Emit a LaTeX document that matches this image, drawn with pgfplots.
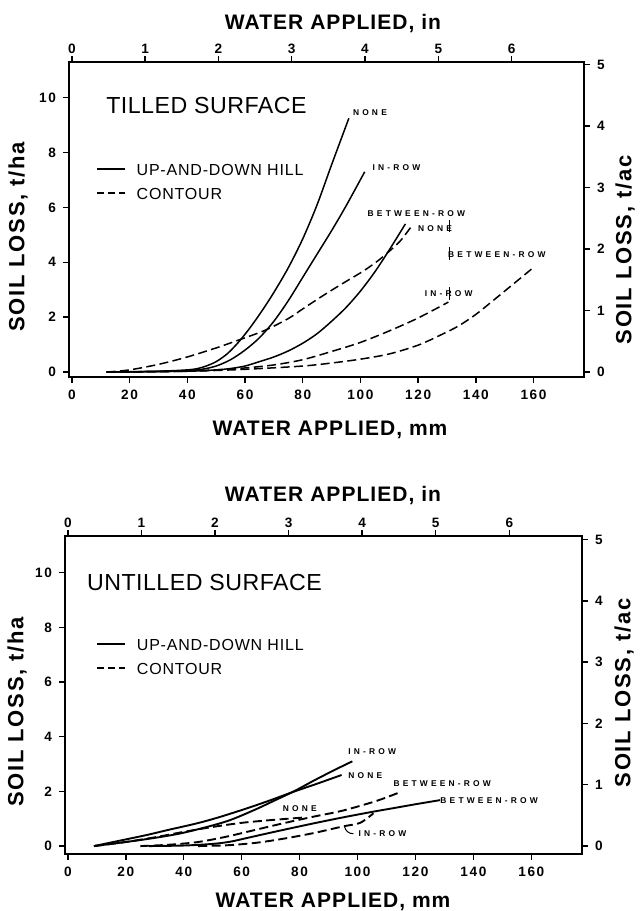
\documentclass[border=0pt]{standalone}
\usepackage{fontspec}
\setmainfont{Liberation Sans}
\newfontfamily\lblfont[LetterSpace=38]{Liberation Sans}
\newfontfamily\tickfont[LetterSpace=12]{Liberation Sans}
\newfontfamily\axfont[LetterSpace=5]{Liberation Sans}
\newfontfamily\yfont[LetterSpace=8]{Liberation Sans}
\newfontfamily\ttlfont[LetterSpace=2]{Liberation Sans}
\usepackage{pgfplots}
\pgfplotsset{compat=1.18}

\pgfplotsset{
  soil/.style={
    scale only axis,
    xmin=-1, xmax=177.5,
    tick align=outside, major tick length=3pt,
    axis line style={line width=0.8pt},
    every tick/.style={black, line width=0.7pt},
    tick label style={font=\tickfont\bfseries\fontsize{6.8}{8}\selectfont},
    /pgf/number format/assume math mode=true,
  },
  mm/.style={soil, xtick={0,20,...,160}, ytick={0,2,...,10},
    xtick pos=left, ytick pos=left, xticklabel pos=left, yticklabel pos=left,
    legend style={draw=none, fill=none, inner sep=0pt, row sep=4pt, column sep=4.5pt,
      nodes={inner sep=1pt, text height=6pt, text depth=0pt},
      font=\axfont\fontsize{8}{9}\selectfont},
    legend cell align=left,
    legend image code/.code={\draw[#1] (0pt,0pt) -- (14pt,0pt);},
  },
  inch/.style={soil, xmin=-1/25.4, xmax=177.5/25.4,
    xtick={0,...,6}, ytick={0,...,5},
    xtick pos=right, ytick pos=right, xticklabel pos=right, yticklabel pos=right,
    xticklabel style={yshift=-2.5pt},
  },
  up/.style={black, line width=0.75pt, smooth, tension=0.5, forget plot},
  co/.style={up, dash pattern=on 4.5pt off 2.2pt},
}
\tikzset{
  big/.style={font=\axfont\bfseries\fontsize{10.5}{12}\selectfont, inner sep=0pt},
  bigy/.style={font=\yfont\bfseries\fontsize{11}{12}\selectfont, inner sep=0pt, rotate=90},
  lbl/.style={font=\lblfont\bfseries\fontsize{4.2}{5}\selectfont, inner sep=0pt, anchor=west},
  ttl/.style={font=\ttlfont\fontsize{11.6}{13}\selectfont, anchor=west, inner sep=0pt},
}

\begin{document}
\begin{tikzpicture}
\path[use as bounding box] (0,0) rectangle (320pt,-455.5pt);

% ---- tilled surface
\begin{axis}[mm, at={(34.5pt,-31pt)}, anchor=north west,
  width=257.5pt, height=157.5pt, ymin=-0.18, ymax=11.3,
  legend style={at={(axis description cs:0.052,0.622)}, anchor=west}]
\addlegendimage{black, line width=0.75pt}
\addlegendentry{UP-AND-DOWN HILL}
\addlegendimage{black, line width=0.75pt, dash pattern=on 3.5pt off 2pt}
\addlegendentry{CONTOUR}
% up-and-down hill
\addplot[up] coordinates {(12,0) (25,0.02) (35,0.05) (42,0.1) (46,0.2) (50,0.38) (54,0.68) (58,1.12) (62,1.65) (66,2.25) (70,2.9) (75,3.8) (80,4.85) (85,6.1) (90,7.55) (96,9.25)};
\addplot[up] coordinates {(12,0) (30,0.02) (40,0.05) (45,0.1) (50,0.22) (55,0.45) (60,0.8) (65,1.25) (70,1.85) (75,2.6) (80,3.45) (85,4.3) (90,5.15) (95,6.05) (101.5,7.3)};
\addplot[up] coordinates {(12,0) (40,0.03) (50,0.08) (55,0.13) (60,0.22) (65,0.38) (70,0.55) (75,0.77) (80,1.05) (85,1.4) (90,1.85) (95,2.35) (100,2.95) (105,3.65) (110,4.45) (115.6,5.4)};
% contour
\addplot[co] coordinates {(12,0) (20,0.08) (30,0.28) (40,0.55) (50,0.88) (57.6,1.16) (66.9,1.52) (75,1.95) (80,2.3) (88,2.85) (95,3.3) (101,3.68) (106,4.05) (110,4.4) (114,4.8) (117.6,5.3)};
\addplot[co] coordinates {(12,0) (30,0.02) (40,0.04) (50,0.08) (60,0.15) (70,0.26) (80,0.45) (90,0.75) (100,1.08) (110,1.5) (120,1.97) (130.5,2.55)};
\addplot[co] coordinates {(12,0) (40,0.03) (60,0.1) (80,0.22) (90,0.33) (100,0.47) (110,0.66) (120,0.98) (128,1.36) (134,1.68) (140,2.1) (145,2.52) (150,2.95) (155,3.38) (160.3,3.84)};
\node[lbl] at (axis cs:97.3,9.47) {NONE};
\node[lbl] at (axis cs:104.1,7.44) {IN-ROW};
\node[lbl] at (axis cs:102.4,5.77) {BETWEEN-ROW};
\node[lbl] at (axis cs:119.9,5.24) {NONE};
\node[lbl] at (axis cs:130.3,4.27) {BETWEEN-ROW};
\node[lbl] at (axis cs:122.2,2.87) {IN-ROW};
\draw[line width=0.5pt] (axis cs:131,5.55) -- (axis cs:131,5.12);
\draw[line width=0.5pt] (axis cs:131,4.57) -- (axis cs:131,4.09);
\draw[line width=0.5pt] (axis cs:131,3.1) -- (axis cs:131,2.62);
\node[ttl] at (axis cs:11.8,9.7) {TILLED SURFACE};
\end{axis}
\begin{axis}[inch, at={(34.5pt,-31pt)}, anchor=north west,
  width=257.5pt, height=157.5pt, ymin=-0.18/2.2417, ymax=11.3/2.2417]
\end{axis}

% ---- untilled surface
\begin{axis}[mm, at={(32.5pt,-268pt)}, anchor=north west,
  width=258.5pt, height=159pt, ymin=-0.29, ymax=11.34,
  legend style={at={(axis description cs:0.060,0.622)}, anchor=west},
  every axis plot/.append style={line width=0.95pt}]
\addlegendimage{black, line width=0.75pt}
\addlegendentry{UP-AND-DOWN HILL}
\addlegendimage{black, line width=0.75pt, dash pattern=on 3.5pt off 2pt}
\addlegendentry{CONTOUR}
% up-and-down hill
\addplot[up, line width=0.95pt] coordinates {(9,0) (18,0.2) (27,0.4) (35,0.6) (44.5,0.83) (52,1.05) (61.8,1.38) (70,1.68) (78,1.99) (86,2.28) (94.5,2.6)};
\addplot[up, line width=0.95pt] coordinates {(9,0) (20,0.15) (30,0.3) (38.7,0.46) (48,0.7) (56,0.95) (65,1.35) (72,1.7) (78,2.0) (85,2.4) (92,2.78) (98.2,3.1)};
\addplot[up, line width=0.95pt] coordinates {(28,0) (40,0.02) (50,0.08) (56,0.16) (62,0.3) (68.7,0.46) (76,0.63) (84.8,0.83) (95,1.05) (105.5,1.26) (112,1.38) (120,1.53) (128.5,1.68)};
% contour
\addplot[co, line width=0.95pt] coordinates {(9,0) (20,0.15) (30,0.32) (40,0.52) (50,0.7) (60,0.85) (70,0.95) (82,1.05)};
\addplot[co, line width=0.95pt] coordinates {(25,0) (35,0.05) (45,0.15) (55,0.35) (65,0.6) (75,0.85) (85,1.08) (95,1.3) (106.5,1.65) (114.4,1.96)};
\addplot[co, line width=0.95pt] coordinates {(45,0) (55,0.03) (65,0.12) (75,0.28) (85,0.48) (95,0.72) (100.9,0.85) (105.5,1.2)};
\node[lbl] at (axis cs:96.7,3.45) {IN-ROW};
\node[lbl] at (axis cs:96.7,2.58) {NONE};
\node[lbl] at (axis cs:112.3,2.27) {BETWEEN-ROW};
\node[lbl] at (axis cs:74.1,1.38) {NONE};
\node[lbl] at (axis cs:128.5,1.68) {BETWEEN-ROW};
\node[lbl] at (axis cs:100.2,0.47) {IN-ROW};
\draw[line width=0.5pt] (axis cs:95.5,0.72) to[bend right=40] (axis cs:98.6,0.45);
\node[ttl] at (axis cs:6.5,9.65) {UNTILLED SURFACE};
\end{axis}
\begin{axis}[inch, at={(32.5pt,-268pt)}, anchor=north west,
  width=258.5pt, height=159pt, ymin=-0.29/2.2417, ymax=11.34/2.2417]
\end{axis}

% ---- axis titles
\node[big] at (166.5pt,-12pt) {WATER APPLIED, in};
\node[big] at (165pt,-215pt) {WATER APPLIED, mm};
\node[bigy] at (9pt,-118.5pt) {SOIL LOSS, t/ha};
\node[bigy] at (312.5pt,-125pt) {SOIL LOSS, t/ac};
\node[big] at (166.5pt,-248pt) {WATER APPLIED, in};
\node[big] at (166.5pt,-451pt) {WATER APPLIED, mm};
\node[bigy] at (8.5pt,-356pt) {SOIL LOSS, t/ha};
\node[bigy] at (312pt,-346.5pt) {SOIL LOSS, t/ac};
\end{tikzpicture}
\end{document}
